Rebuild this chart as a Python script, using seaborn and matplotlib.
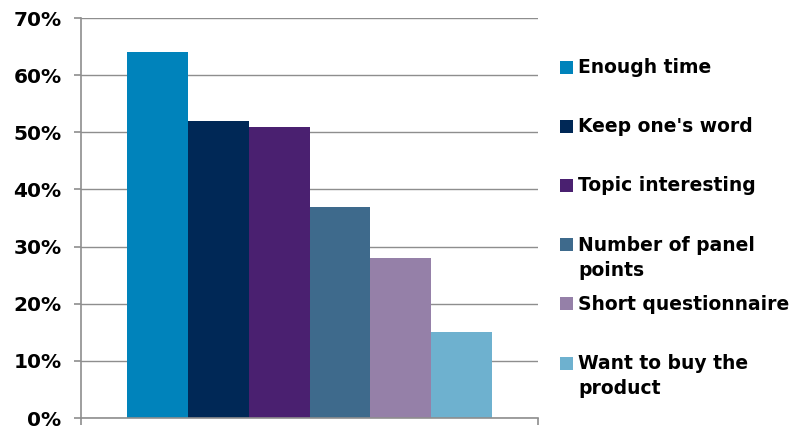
import matplotlib
matplotlib.use("Agg")
import matplotlib.pyplot as plt
from matplotlib.ticker import PercentFormatter, MultipleLocator
from matplotlib.patches import Rectangle
import seaborn as sns
import pandas as pd

categories = ["Enough time", "Keep one's word", "Topic interesting",
              "Number of panel points", "Short questionnaire", "Want to buy the product"]
legend_labels = ["Enough time", "Keep one's word", "Topic interesting",
                 "Number of panel\npoints", "Short questionnaire", "Want to buy the\nproduct"]
values = [64, 52, 51, 37, 28, 15]
colors = ["#0083BB", "#002856", "#4A2070", "#3E6A8C", "#9580A8", "#6EB1CF"]

sns.set_theme(style="white")
plt.rcParams["font.family"] = ["DejaVu Sans"]

df = pd.DataFrame({"group": ["all"] * len(categories), "category": categories, "value": values})

fig = plt.figure(figsize=(7.91, 4.30), dpi=100)
ax = fig.add_axes([81 / 791, 1 - 418 / 430, (538 - 81) / 791, 400 / 430])

sns.barplot(data=df, x="group", y="value", hue="category", hue_order=categories,
            palette=colors, saturation=1, width=0.8, linewidth=0, legend=False, ax=ax)

grid_c = "#8e8e8e"
ax.set_ylim(0, 70)
ax.set_xlim(-0.5, 0.5)
ax.yaxis.set_major_locator(MultipleLocator(10))
ax.yaxis.set_major_formatter(PercentFormatter(100, decimals=0))
ax.set_xticks([-0.5, 0.5])
ax.set_xticklabels(["", ""])
ax.set_xlabel("")
ax.set_ylabel("")
ax.grid(axis="y", color=grid_c, linewidth=1.0)
ax.set_axisbelow(True)
for s in ["top", "right"]:
    ax.spines[s].set_visible(False)
for s in ["left", "bottom"]:
    ax.spines[s].set_color(grid_c)
    ax.spines[s].set_linewidth(1.2)
ax.tick_params(axis="y", which="major", direction="out", length=5, width=1.2,
               color=grid_c, pad=9, labelsize=14.5, left=True)
ax.tick_params(axis="x", which="major", direction="out", length=5, width=1.2,
               color=grid_c, bottom=True)
for lab in ax.get_yticklabels():
    lab.set_fontweight("bold")
    lab.set_color("black")

# legend drawn as text + square patches, one row per category
W, H = 791, 430
y0, dy = 67, 59.2
for i, (lab, col) in enumerate(zip(legend_labels, colors)):
    yc = y0 + i * dy
    fig.patches.append(Rectangle((560 / W, 1 - (yc + 6.5) / H), 13 / W, 13 / H,
                                 transform=fig.transFigure, facecolor=col,
                                 edgecolor="none", figure=fig))
    fig.text(578 / W, 1 - (yc - 9) / H, lab, fontsize=13.5, fontweight="bold",
             color="black", ha="left", va="top", linespacing=1.4)

fig.savefig("out.png", dpi=100)
